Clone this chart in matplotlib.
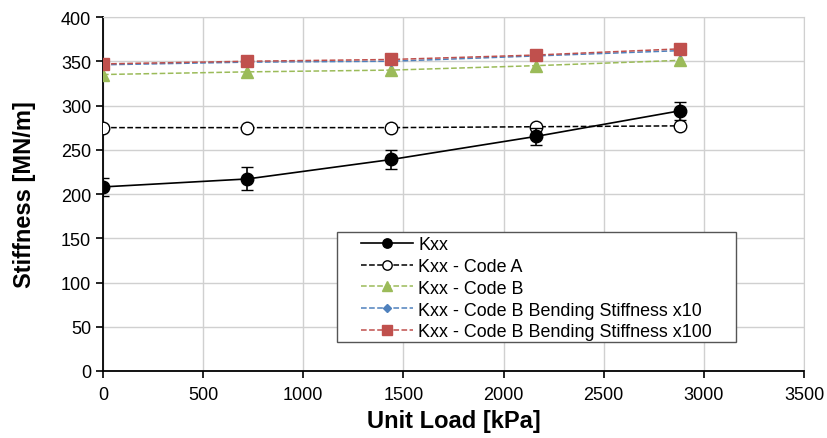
import matplotlib.pyplot as plt
from matplotlib.patches import Rectangle

plt.rcParams['font.family'] = ['Liberation Sans', 'DejaVu Sans']

load = [0, 720, 1440, 2160, 2880]
kxx = [208, 217, 239, 265, 294]
kxx_err = [10, 13, 11, 10, 10]
code_a = [275, 275, 275, 276, 277]
code_b = [335, 338, 340, 345, 351]
code_b_x10 = [346, 349, 350, 356, 362]
code_b_x100 = [347, 350, 352, 357, 364]

W, H = 827, 439
fig = plt.figure(figsize=(W/100, H/100), dpi=100)
ax = fig.add_axes([103/W, 1-372/H, 701/W, 354/H])

ax.errorbar(load, kxx, yerr=kxx_err, color='black', fmt='none', capsize=4, elinewidth=1.2, zorder=5)
h1, = ax.plot(load, kxx, color='black', marker='o', markersize=9, linewidth=1.2, label='Kxx', zorder=6)
h2, = ax.plot(load, code_a, color='black', linestyle='--', linewidth=1.1, marker='o', markersize=9,
              markerfacecolor='white', markeredgecolor='black', label='Kxx - Code A', zorder=4)
h3, = ax.plot(load, code_b, color='#9bbb59', linestyle='--', linewidth=1.1, marker='^', markersize=9,
              label='Kxx - Code B', zorder=4)
h4, = ax.plot(load, code_b_x10, color='#4f81bd', linestyle='--', linewidth=1.1, marker='D', markersize=5,
              label='Kxx - Code B Bending Stiffness x10', zorder=4)
h5, = ax.plot(load, code_b_x100, color='#c0504d', linestyle='--', linewidth=1.1, marker='s', markersize=9,
              label='Kxx - Code B Bending Stiffness x100', zorder=4)

ax.set_xlim(0, 3500)
ax.set_ylim(0, 400)
ax.set_xticks(range(0, 3501, 500))
ax.set_yticks(range(0, 401, 50))
ax.grid(True, color='#d0d0d0', linewidth=1)
ax.set_axisbelow(True)
for s in ['top', 'right']:
    ax.spines[s].set_color('#d0d0d0')
for s in ['left', 'bottom']:
    ax.spines[s].set_color('black')
    ax.spines[s].set_linewidth(1.3)
ax.tick_params(labelsize=13, direction='out', length=5, width=1.2)
ax.tick_params(axis='x', pad=6)

ax.set_xlabel('Unit Load [kPa]', fontsize=17, fontweight='bold')
ax.set_ylabel('Stiffness [MN/m]', fontsize=17, fontweight='bold', labelpad=18)

# legend box drawn by hand (wider side padding than matplotlib gives)
fig.add_artist(Rectangle((337/W, 1-343/H), 399/W, 110/H, transform=fig.transFigure,
                         facecolor='white', edgecolor='#555555', linewidth=1, zorder=10))
leg = ax.legend(handles=[h1, h2, h3, h4, h5], loc='upper left',
                bbox_to_anchor=(361/W, 1-237/H), bbox_transform=fig.transFigure,
                fontsize=12.9, frameon=False,
                handlelength=2.9, labelspacing=0.27, borderpad=0, handletextpad=0.3,
                borderaxespad=0, markerscale=0.75)
leg.set_zorder(11)
fig.add_artist(leg)

fig.savefig('out.png', dpi=100)
